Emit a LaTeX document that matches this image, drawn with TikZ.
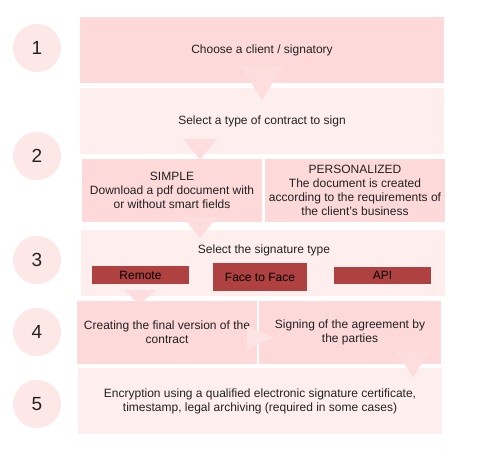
\documentclass[tikz,border=0pt]{standalone}
\usepackage{fontspec}
\setmainfont{Liberation Sans}
\usepackage{tikz}
\usetikzlibrary{calc}

\definecolor{pinkdark}{HTML}{FDD9D9}
\definecolor{pinklight}{HTML}{FEEEEE}
\definecolor{circpink}{HTML}{FDE7E7}
\definecolor{tripink}{HTML}{FDDDDD}
\definecolor{tripale}{HTML}{FDE4E4}
\definecolor{btnred}{HTML}{B04141}
\definecolor{inkgray}{HTML}{222222}

\begin{document}
\begin{tikzpicture}[
		x=1bp, y=-1bp,
		font=\fontsize{12bp}{13.8bp}\selectfont,
		text=inkgray,
		num/.style={circle, fill=circpink, minimum size=48bp, inner sep=0pt, font=\fontsize{19bp}{22bp}\selectfont},
		darkbox/.style={fill=pinkdark, inner sep=0pt, align=center},
		lightbox/.style={fill=pinklight, inner sep=0pt, align=center},
		btn/.style={fill=btnred, inner sep=0pt, text=black},
		tri/.style={fill=tripink}
		]
		\useasboundingbox (0,0) rectangle (500,460);
		
		% step numbers
		\node[num] (n1) at (37,48) {1};
		\node[num] (n2) at (37,156) {2};
		\node[num] (n3) at (37,260) {3};
		\node[num] (n4) at (37,332) {4};
		\node[num] (n5) at (37,404) {5};
		
		% step 1 and 2
		\node[darkbox, minimum width=364bp, minimum height=66bp] (client) at (262,50) {Choose a client / signatory};
		\node[lightbox, minimum width=364bp, minimum height=66bp] (contract) at (262,121) {Select a type of contract to sign};
		\node[darkbox, minimum width=180bp, minimum height=63bp] (simple) at (172,190.5)
		{SIMPLE\\Download a pdf document with\\or without smart fields};
		\node[darkbox, minimum width=180bp, minimum height=63bp] (personal) at (355,190.5)
		{PERSONALIZED\\The document is created\\according to the requirements of\\the client's business};
		
		% step 3
		\node[lightbox, minimum width=364bp, minimum height=66bp] (sigbox) at (263,263) {};
		\node (sigtype) at (264,250) {Select the signature type};
		\node[btn, minimum width=97bp, minimum height=18bp] (remote) at (140.5,275) {Remote};
		\node[btn, minimum width=94bp, minimum height=28bp] (face) at (260,277) {Face to Face};
		\node[btn, minimum width=97bp, minimum height=17bp] (api) at (382.5,275.5) {API};
		
		% step 4 and 5
		\node[darkbox, minimum width=180bp, minimum height=63bp] (final) at (167,332.5)
		{Creating the final version of the\\contract};
		\node[darkbox, minimum width=182bp, minimum height=63bp] (signing) at (350,332.5)
		{Signing of the agreement by\\the parties};
		\node[lightbox, minimum width=364bp, minimum height=66bp] (crypt) at (260,401)
		{Encryption using a qualified electronic signature certificate,\\timestamp, legal archiving (required in some cases)};
		
		% arrow marks
		\coordinate (t1) at ($(client.south)+(0,17)$);
		\coordinate (t2) at ($(simple.north)+(28,1)$);
		\coordinate (t3) at ($(simple.south)+(28,16)$);
		\coordinate (t4) at ($(sigbox.south west)+(59,8)$);
		\coordinate (t5) at ($(final.east)+(16,5.5)$);
		\coordinate (t6) at ($(signing.south)+(63,13)$);
		\fill[tri] (t1) -- ++(-21,-34) -- ++(42,0) -- cycle;
		\fill[tri] (t2) -- ++(-17,-21) -- ++(34,0) -- cycle;
		\fill[tri] (t3) -- ++(-17,-21) -- ++(34,0) -- cycle;
		\fill[tri] (t4) -- ++(-16,-14) -- ++(32,0) -- cycle;
		\fill[tripale] (t5) -- ++(-26,-11.5) -- ++(0,23) -- cycle;
		\fill[tri] (t6) -- ++(-16.5,-25) -- ++(33,0) -- cycle;
	\end{tikzpicture}
\end{document}
